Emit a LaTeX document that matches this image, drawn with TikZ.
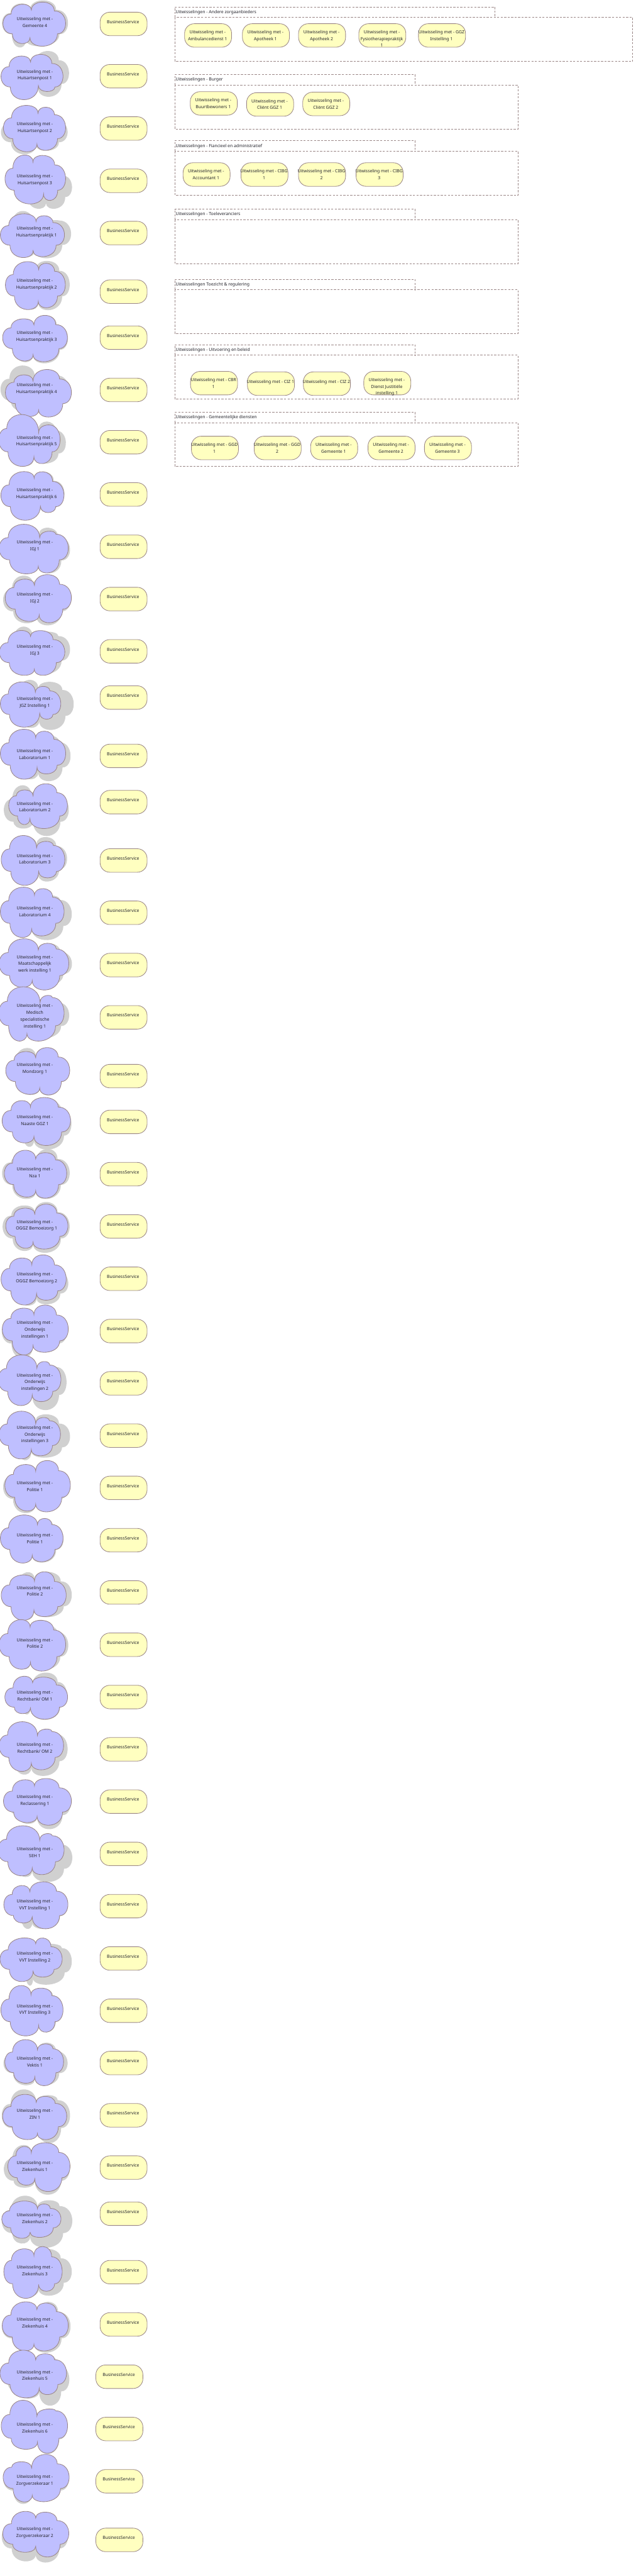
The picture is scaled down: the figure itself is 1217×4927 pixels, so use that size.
\documentclass[tikz,border=0pt]{standalone}
\usepackage{fontspec}
\setmainfont{Noto Sans}
\definecolor{edge}{HTML}{9A8686}
\definecolor{cloudfill}{HTML}{BFBFFF}
\definecolor{pillfill}{HTML}{FFFFC0}
\definecolor{shade}{HTML}{D0D0D0}
\definecolor{ink}{HTML}{24242C}
\tikzset{
  every node/.style={font=\fontsize{6.2}{9.75}\selectfont,text=ink},
  pill/.style={draw=edge,fill=pillfill,line width=.75pt,rounded corners=14pt,minimum width=67.5pt,minimum height=33.75pt,inner sep=0pt,outer sep=0pt},
  labeltext/.style={align=center,inner sep=0pt,outer sep=0pt,execute at begin node=\strut,execute at end node=\strut},
  frameline/.style={draw=edge,line width=.75pt,dash pattern=on 3pt off 2pt},
  cloudbody/.style={draw=edge,fill=cloudfill,line width=.75pt},
  cloudshade/.style={fill=shade}
}
% zoom coordinate conversion
\newcommand{\zoomset}[3]{\def\zfx{#1}\def\zfy{#2}\def\zyo{#3}}
\newcommand{\lobes}[9]{%
  \pgfmathsetmacro{\xL}{#2/\zfx}\pgfmathsetmacro{\xR}{#3/\zfx}%
  \pgfmathsetmacro{\tL}{\zyo+#4/\zfy}\pgfmathsetmacro{\tR}{\zyo+#5/\zfy}%
  \pgfmathsetmacro{\bL}{\zyo+#6/\zfy}\pgfmathsetmacro{\bR}{\zyo+#7/\zfy}%
  \pgfmathsetmacro{\tx}{#8/\zfx}\pgfmathsetmacro{\bx}{#9/\zfx}%
  \pgfmathsetmacro{\wdt}{\xR-\xL}%
  \pgfmathsetmacro{\yT}{min(\tL,\tR)}\pgfmathsetmacro{\yB}{max(\bL,\bR)}%
  \pgfmathsetmacro{\hh}{\yB-\yT}%
  \pgfmathsetmacro{\nOne}{max(\tL,\tR)+.13*\hh}%
  \pgfmathsetmacro{\nFour}{min(\bL,\bR)-.13*\hh}%
  \pgfmathsetmacro{\jax}{\xL+.13*\wdt}\pgfmathsetmacro{\jay}{\yT+.27*\hh}%
  \pgfmathsetmacro{\jbx}{\xL+.15*\wdt}\pgfmathsetmacro{\jby}{\yT+.72*\hh}%
  \pgfmathsetmacro{\jcx}{\xL+.87*\wdt}\pgfmathsetmacro{\jcy}{\yT+.72*\hh}%
  \pgfmathsetmacro{\jdx}{\xL+.82*\wdt}\pgfmathsetmacro{\jdy}{\yT+.2*\hh}%
  \pgfmathsetmacro{\ca}{(\tL-.25*(\nOne+\jay)/2)/.75}%
  \pgfmathsetmacro{\cb}{(\tR-.25*(\nOne+\jdy)/2)/.75}%
  \pgfmathsetmacro{\cc}{(\bL-.25*(\nFour+\jby)/2)/.75}%
  \pgfmathsetmacro{\cd}{(\bR-.25*(\nFour+\jcy)/2)/.75}%
  \pgfmathsetmacro{\ce}{(\xL-.25*(\jax+\jbx)/2)/.75}%
  \pgfmathsetmacro{\cf}{(\xR-.25*(\jcx+\jdx)/2)/.75}%
  \path[#1] (\tx,\nOne) .. controls (\tx,\cb) and (\jdx,\cb) .. (\jdx,\jdy)
    .. controls (\cf,\jdy) and (\cf,\jcy) .. (\jcx,\jcy)
    .. controls (\jcx,\cd) and (\bx,\cd) .. (\bx,\nFour)
    .. controls (\bx,\cc) and (\jbx,\cc) .. (\jbx,\jby)
    .. controls (\ce,\jby) and (\ce,\jay) .. (\jax,\jay)
    .. controls (\jax,\ca) and (\tx,\ca) .. (\tx,\nOne) -- cycle;%
}
\newcommand{\sh}[8]{\lobes{cloudshade}{#1}{#2}{#3}{#4}{#5}{#6}{#7}{#8}}
\newcommand{\bd}[8]{\lobes{cloudbody}{#1}{#2}{#3}{#4}{#5}{#6}{#7}{#8}}
\newcommand{\ct}[2]{\node[labeltext] (c#1) at (66.7,{45+100*#1}) {#2};}
\newcommand{\pillnode}[4]{%
  \node[pill] (#1) at ({#2+45},{#3+22.5}) {};
  \node[labeltext,anchor=north] (#1t) at ({#2+44},{#3+12.6}) {#4};}
\newcommand{\groupframe}[7]{%
  \draw[frameline] (334.4,#3) rectangle (#6,#4);
  \draw[frameline] (334.4,#3) -- (334.4,#2) -- (#5,#2) -- (#5,#3);
  \node[anchor=west,inner sep=0pt] (#1) at (336,{#2+9.6}) {\strut #7};}
\newcommand{\um}{Uitwisseling met -}
\newcommand{\shiftline}[1]{\hspace*{5pt}#1}
\begin{document}
\begin{tikzpicture}[x=.75pt,y=-.75pt]
\useasboundingbox (0,0) rectangle (1217,4927);
\clip (0,0) rectangle (1217,4927);
\fill[white] (0,0) rectangle (1217,4927);

\groupframe{g1}{13.3}{33.3}{117.3}{947.5}{1211}{Uitwisselingen - Andere zorgaanbieders}
\groupframe{g2}{142.3}{162.3}{246.7}{794.5}{991.5}{Uitwisselingen - Burger}
\groupframe{g3}{269.3}{289.3}{373.3}{794.5}{991.5}{Uitwisselingen - Fiancieel en administratief}
\groupframe{g4}{400}{420.3}{504.3}{794.5}{991.5}{Uitwisselingen - Toeleveranciers}
\groupframe{g5}{534.3}{554.3}{638.3}{794.5}{991.5}{Uitwisselingen Toezicht \& regulering}
\groupframe{g6}{659.3}{679.3}{763.3}{794.5}{991.5}{Uitwisselingen - Uitvoering en beleid}
\groupframe{g7}{788.3}{808.3}{892.3}{794.5}{991.5}{Uitwisselingen - Gemeentelijke diensten}

\pillnode{a1}{353.3}{45.3}{\um\\Ambulancedienst 1}
\pillnode{a2}{464}{45.3}{\um\\Apotheek 1}
\pillnode{a3}{571.4}{45.3}{\um\\Apotheek 2}
\pillnode{a4}{686.8}{45.3}{\um\\Fysiotherapiepraktijk\\1}
\pillnode{a5}{801}{45.3}{\um{} GGZ\\Instelling 1}
\pillnode{b1}{364.2}{175.3}{\um\\Buurtbewoners 1}
\pillnode{b2}{472}{177.3}{\um\\Cliënt GGZ 1}
\pillnode{b3}{579.5}{176.3}{\um\\Cliënt GGZ 2}
\pillnode{f1}{350.4}{311.3}{\um\\Accountant 1}
\pillnode{f2}{461.2}{311.3}{\um{} CIBG\\1}
\pillnode{f3}{571.4}{311.3}{\um{} CIBG\\2}
\pillnode{f4}{681.6}{311.3}{\um{} CIBG\\3}
\pillnode{u1}{364.6}{710.3}{\um{} CBR\\1}
\pillnode{u2}{473.6}{711.3}{\um{} CIZ 1}
\pillnode{u3}{580.7}{711.3}{\um{} CIZ 2}
\pillnode{u4}{696.3}{710.3}{\um\\Dienst Justitiële\\instelling 1}
\pillnode{d1}{366.4}{834.3}{\um{} GGD\\1}
\pillnode{d2}{486.5}{834.3}{\um{} GGD\\2}
\pillnode{d3}{594.6}{834.3}{\um\\Gemeente 1}
\pillnode{d4}{704.4}{834.3}{\um\\Gemeente 2}
\pillnode{d5}{812.4}{834.3}{\um\\Gemeente 3}

\foreach \ti [count=\n] in {23.3,123.3,223.3,323.3,423.3,535.3,623.3,723.3,823.3,923.3,1023.3,1123.3,1223.3,1311.7,1423.3,1511.7,1623.3,1723.3,1823.3,1923.3,2035.7,2123.3,2223.3,2323.3,2423.3,2523.3,2623.3,2723.3,2823.3,2923.3,3023.3,3123.3,3223.3,3323.3,3423.3,3523.3,3623.3,3723.3,3823.3,3923.3,4023.3,4123.3,4211.5,4323.3,4423.3}
  {\pillnode{s\n}{191.5}{\ti}{BusinessService}}
\foreach \ti [count=\n from 46] in {4523.3,4623.3,4723.3,4835.4}
  {\pillnode{s\n}{183.5}{\ti}{BusinessService}}

% clouds: shadow, then body, in the reference's zoom coordinates
\zoomset{2.613}{3}{0}
\sh{10}{340}{20}{2}{272}{265}{150}{130}\bd{15}{328}{25}{12}{250}{265}{157}{150}\ct{0}{\um\\Gemeente 4}
\sh{60}{345}{340}{293}{540}{555}{170}{190}\bd{5}{315}{322}{312}{572}{525}{153}{192}\ct{1}{\um\\Huisartsenpost 1}
\sh{5}{338}{640}{640}{885}{865}{170}{180}\bd{17}{328}{605}{615}{870}{862}{190}{185}\ct{2}{\um\\Huisartsenpost 2}
\sh{100}{360}{960}{960}{1197}{1197}{200}{230}\bd{25}{328}{890}{892}{1170}{1150}{165}{218}\ct{3}{\um\\Huisartsenpost 3}
\zoomset{3}{2.24}{400}
\sh{20}{408}{8}{50}{205}{210}{200}{200}\bd{2}{370}{20}{28}{207}{203}{207}{190}\ct{4}{\um\\\shiftline{Huisartsenpraktijk 1}}
\sh{70}{400}{225}{222}{430}{432}{210}{220}\bd{31}{375}{225}{232}{430}{422}{222}{220}\ct{5}{\um\\\shiftline{Huisartsenpraktijk 2}}
\sh{30}{390}{470}{455}{655}{660}{195}{190}\bd{15}{387}{470}{455}{650}{653}{195}{190}\ct{6}{\um\\\shiftline{Huisartsenpraktijk 3}}
\sh{3}{395}{670}{690}{870}{880}{200}{220}\bd{31}{410}{710}{687}{888}{890}{190}{222}\ct{7}{\um\\\shiftline{Huisartsenpraktijk 4}}
\sh{50}{378}{920}{910}{1100}{1090}{220}{195}\bd{-7}{345}{880}{928}{1102}{1090}{222}{195}\ct{8}{\um\\\shiftline{Huisartsenpraktijk 5}}
\sh{30}{370}{1130}{1125}{1320}{1300}{196}{230}\bd{5}{367}{1125}{1125}{1333}{1300}{196}{232}\ct{9}{\um\\\shiftline{Huisartsenpraktijk 6}}
\sh{20}{402}{1365}{1365}{1540}{1560}{225}{220}\bd{-5}{392}{1350}{1380}{1562}{1558}{228}{220}\ct{10}{\um\\IGJ 1}
\zoomset{3}{1.96}{1100}
\sh{18}{405}{2}{10}{180}{188}{190}{210}\bd{30}{410}{15}{-2}{173}{178}{198}{225}\ct{11}{\um\\IGJ 2}
\sh{30}{402}{193}{212}{370}{370}{190}{197}\bd{-3}{372}{208}{208}{375}{375}{175}{197}\ct{12}{\um\\IGJ 3}
\sh{60}{423}{393}{400}{572}{580}{220}{225}\bd{2}{349}{400}{417}{570}{540}{203}{228}\ct{13}{\um\\JGZ Instelling 1}
\sh{50}{405}{590}{600}{765}{772}{205}{220}\bd{2}{377}{578}{585}{765}{745}{205}{213}\ct{14}{\um\\Laboratorium 1}
\sh{22}{395}{788}{800}{950}{978}{180}{190}\bd{50}{387}{805}{782}{935}{950}{190}{172}\ct{15}{\um\\Laboratorium 2}
\sh{40}{385}{985}{982}{1150}{1148}{210}{222}\bd{7}{372}{976}{998}{1163}{1135}{210}{222}\ct{16}{\um\\Laboratorium 3}
\sh{40}{412}{1180}{1200}{1350}{1368}{198}{182}\bd{2}{368}{1170}{1175}{1358}{1352}{198}{182}\ct{17}{\um\\Laboratorium 4}
\sh{40}{413}{1380}{1380}{1540}{1540}{220}{185}\bd{-5}{395}{1363}{1380}{1545}{1555}{220}{185}\ct{18}{\um\\Maatschappelijk\\werk instelling 1}
\zoomset{3}{1.96}{1900}
\sh{40}{397}{0}{25}{170}{170}{230}{155}\bd{-7}{368}{-25}{8}{178}{178}{230}{155}\ct{19}{\um\\Medisch\\specialistische\\instelling 1}
\sh{45}{395}{205}{210}{380}{382}{205}{228}\bd{33}{400}{218}{203}{378}{380}{205}{228}\ct{20}{\um\\Mondzorg 1}
\sh{85}{410}{430}{400}{575}{585}{175}{195}\bd{12}{405}{402}{390}{560}{570}{175}{195}\ct{21}{\um\\Naaste GGZ 1}
\sh{12}{400}{610}{583}{770}{770}{205}{205}\bd{25}{383}{588}{597}{763}{767}{205}{205}\ct{22}{\um\\Nza 1}
\sh{15}{400}{795}{782}{965}{972}{200}{190}\bd{33}{390}{805}{790}{955}{958}{200}{190}\ct{23}{\um\\\shiftline{OGGZ Bemoeizorg 1}}
\sh{40}{392}{1010}{1010}{1170}{1165}{183}{210}\bd{6}{380}{992}{980}{1168}{1150}{183}{210}\ct{24}{\um\\\shiftline{OGGZ Bemoeizorg 2}}
\sh{10}{385}{1200}{1170}{1368}{1345}{195}{190}\bd{13}{392}{1180}{1168}{1355}{1345}{195}{190}\ct{25}{\um\\Onderwijs\\instellingen 1}
\sh{50}{382}{1360}{1400}{1535}{1562}{212}{185}\bd{-10}{350}{1355}{1380}{1545}{1530}{212}{185}\ct{26}{\um\\Onderwijs\\instellingen 2}
\zoomset{3}{1.96}{2700}
\sh{50}{402}{10}{10}{182}{172}{205}{180}\bd{-5}{347}{-2}{22}{177}{165}{205}{180}\ct{27}{\um\\Onderwijs\\instellingen 3}
\sh{18}{395}{230}{190}{380}{372}{205}{205}\bd{28}{404}{198}{183}{372}{375}{205}{205}\ct{28}{\um\\Politie 1}
\sh{40}{365}{395}{405}{565}{565}{215}{185}\bd{2}{362}{387}{400}{567}{562}{215}{185}\ct{29}{\um\\Politie 1}
\sh{60}{412}{602}{600}{780}{770}{198}{195}\bd{7}{380}{612}{600}{782}{768}{198}{195}\ct{30}{\um\\Politie 2}
\sh{40}{392}{790}{800}{965}{968}{173}{175}\bd{-5}{377}{780}{782}{965}{972}{173}{175}\ct{31}{\um\\Politie 2}
\sh{85}{385}{1000}{978}{1135}{1155}{187}{175}\bd{28}{388}{992}{995}{1132}{1153}{187}{175}\ct{32}{\um\\Rechtbank/ OM 1}
\sh{30}{388}{1170}{1200}{1360}{1365}{215}{180}\bd{-5}{365}{1162}{1190}{1348}{1342}{215}{180}\ct{33}{\um\\Rechtbank/ OM 2}
\sh{50}{405}{1395}{1378}{1545}{1565}{198}{213}\bd{20}{410}{1380}{1375}{1540}{1550}{198}{213}\ct{34}{\um\\Reclassering 1}
\zoomset{3}{2.09}{3500}
\sh{50}{415}{20}{60}{188}{208}{228}{185}\bd{-12}{368}{-17}{15}{183}{178}{228}{185}\ct{35}{\um\\SEH 1}
\sh{75}{385}{230}{215}{395}{395}{172}{185}\bd{22}{390}{222}{207}{372}{395}{172}{185}\ct{36}{\um\\VVT Instelling 1}
\sh{100}{412}{435}{455}{622}{618}{205}{190}\bd{0}{357}{432}{432}{606}{588}{205}{190}\ct{37}{\um\\VVT Instelling 2}
\sh{60}{360}{640}{632}{815}{808}{178}{222}\bd{5}{362}{622}{632}{823}{808}{178}{222}\ct{38}{\um\\VVT Instelling 3}
\sh{20}{388}{860}{850}{1020}{1020}{215}{200}\bd{28}{365}{838}{855}{1012}{1022}{215}{200}\ct{39}{\um\\Vektis 1}
\sh{10}{402}{1037}{1060}{1220}{1252}{208}{215}\bd{15}{383}{1057}{1065}{1237}{1237}{208}{215}\ct{40}{\um\\ZIN 1}
\sh{22}{400}{1260}{1260}{1430}{1458}{180}{200}\bd{45}{402}{1265}{1250}{1420}{1445}{180}{200}\ct{41}{\um\\Ziekenhuis 1}
\sh{10}{415}{1462}{1480}{1653}{1670}{215}{173}\bd{10}{350}{1483}{1495}{1632}{1628}{215}{173}\ct{42}{\um\\Ziekenhuis 2}
\zoomset{3}{2.218}{4220}
\sh{60}{412}{190}{180}{380}{378}{195}{222}\bd{22}{357}{180}{170}{390}{360}{195}{222}\ct{43}{\um\\Ziekenhuis 3}
\sh{10}{405}{430}{405}{612}{620}{212}{195}\bd{13}{392}{405}{410}{612}{612}{212}{195}\ct{44}{\um\\Ziekenhuis 4}
\sh{40}{398}{630}{630}{815}{845}{205}{225}\bd{0}{382}{610}{625}{812}{798}{205}{225}\ct{45}{\um\\Ziekenhuis 5}
\sh{30}{385}{830}{860}{1025}{1050}{212}{215}\bd{7}{388}{822}{860}{1030}{1047}{212}{215}\ct{46}{\um\\Ziekenhuis 6}
\sh{20}{395}{1100}{1060}{1262}{1240}{182}{185}\bd{18}{397}{1083}{1052}{1253}{1252}{182}{185}\ct{47}{\um\\Zorgverzekeraar 1}
\sh{10}{390}{1320}{1300}{1505}{1510}{205}{205}\bd{16}{395}{1294}{1297}{1467}{1487}{205}{205}\ct{48}{\um\\Zorgverzekeraar 2}
\end{tikzpicture}
\end{document}
